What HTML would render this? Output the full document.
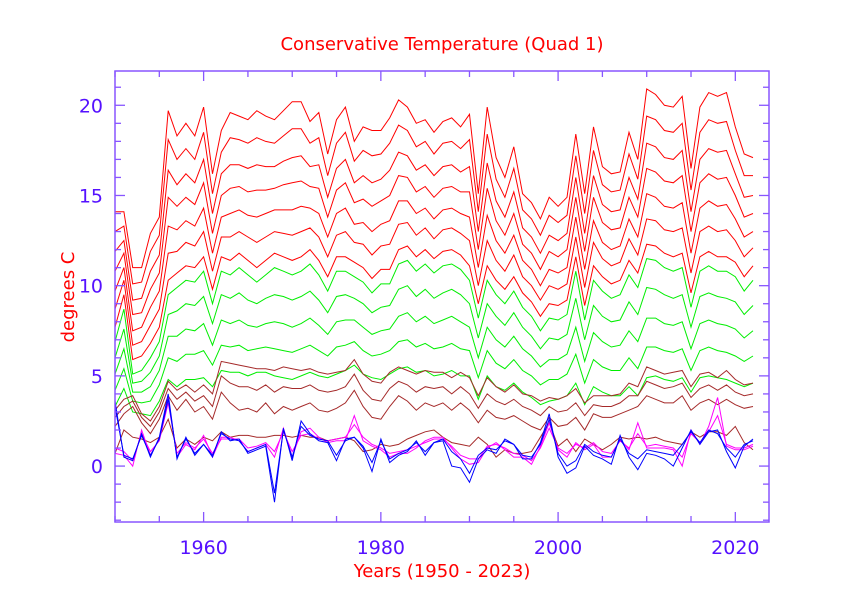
<!DOCTYPE html>
<html><head><meta charset="utf-8"><style>
html,body{margin:0;padding:0;background:#fff;}
svg{display:block;font-family:"DejaVu Sans","Liberation Sans",sans-serif;}
</style></head><body>
<svg id="chart" width="842" height="595" viewBox="0 0 842 595" xmlns="http://www.w3.org/2000/svg">
<rect width="842" height="595" fill="#fff"/>
<text x="442" y="50" text-anchor="middle" font-size="18" fill="#ff0000">Conservative Temperature (Quad  1)</text>
<text x="442" y="577" text-anchor="middle" font-size="18" fill="#ff0000">Years (1950 - 2023)</text>
<text transform="translate(74,297) rotate(-90)" text-anchor="middle" font-size="18" fill="#ff0000">degrees C</text>
<g id="series"></g>
<g id="axes"></g>
</svg>
<script>
const years = [];
for (let y = 1950; y <= 2022; y++) years.push(y);
const redTop = [14.1,14.1,11.0,11.0,12.9,13.8,19.7,18.3,19.0,18.3,19.9,16.2,18.6,19.6,19.4,19.2,19.7,19.4,19.2,19.7,20.2,20.2,19.1,19.6,17.3,19.2,19.9,18.0,18.8,18.6,18.6,19.3,20.3,19.9,19.0,19.2,18.5,19.1,19.3,18.8,19.5,15.1,19.9,17.1,16.0,17.7,15.1,14.6,13.7,14.9,14.4,14.9,18.4,15.1,18.8,16.6,16.2,16.3,18.5,17.0,20.9,20.6,20.0,19.9,20.5,16.5,19.9,20.7,20.5,20.7,18.8,17.3,17.1];
const redA = [13.0,13.3,10.1,10.2,11.9,12.8,18.1,17.0,17.6,17.0,18.5,15.1,17.4,18.2,18.1,17.9,18.2,18.0,17.9,18.3,18.7,18.7,17.9,18.2,16.1,17.9,18.5,16.9,17.5,17.2,17.3,17.9,18.9,18.6,17.7,18.0,17.3,17.9,18.0,17.6,18.1,14.1,18.4,15.9,14.9,16.5,14.2,13.7,12.8,13.9,13.5,13.9,17.2,14.0,17.5,15.6,15.2,15.3,17.3,15.9,19.4,19.2,18.6,18.5,19.0,15.3,18.5,19.2,19.0,19.1,17.5,16.1,16.1];
const redMid1 = [11.9,12.5,9.2,9.3,10.8,11.7,16.4,15.6,16.2,15.7,17.0,14.0,16.2,16.7,16.7,16.5,16.7,16.6,16.6,16.9,17.1,17.2,16.6,16.7,14.9,16.5,17.0,15.7,16.1,15.7,15.9,16.4,17.4,17.2,16.4,16.7,16.1,16.6,16.7,16.3,16.6,13.0,16.8,14.7,13.8,15.2,13.2,12.7,11.8,12.8,12.5,12.9,16.0,12.9,16.1,14.5,14.1,14.2,16.0,14.8,17.9,17.7,17.1,17.0,17.5,14.1,17.0,17.6,17.4,17.5,16.2,14.9,15.0];
const redB = [10.8,11.8,8.4,8.5,9.8,10.7,14.9,14.4,14.9,14.5,15.7,12.9,15.0,15.4,15.5,15.2,15.3,15.3,15.4,15.6,15.7,15.8,15.5,15.4,13.8,15.3,15.7,14.6,14.8,14.4,14.7,15.0,16.1,16.0,15.2,15.5,14.9,15.4,15.5,15.2,15.2,12.0,15.4,13.6,12.8,14.0,12.3,11.8,10.9,11.9,11.6,12.0,14.9,11.9,14.9,13.5,13.1,13.2,14.9,13.8,16.5,16.3,15.8,15.7,16.1,13.0,15.7,16.2,15.9,16.0,15.0,13.8,14.0];
const redMid2 = [9.7,11.0,7.5,7.7,8.8,9.7,13.3,13.1,13.6,13.3,14.3,11.8,13.8,14.0,14.2,13.9,13.8,14.0,14.2,14.2,14.2,14.4,14.3,14.0,12.7,14.0,14.3,13.4,13.5,13.0,13.4,13.6,14.7,14.7,14.0,14.3,13.7,14.2,14.3,14.0,13.8,11.0,13.9,12.5,11.8,12.8,11.4,10.9,10.0,10.9,10.7,11.0,13.8,10.9,13.6,12.4,12.0,12.2,13.7,12.7,15.1,14.9,14.4,14.3,14.6,11.8,14.3,14.7,14.4,14.5,13.7,12.7,13.0];
const redC = [8.7,10.3,6.7,6.9,7.8,8.7,11.8,11.9,12.4,12.2,13.0,10.8,12.7,12.7,13.0,12.7,12.4,12.7,13.0,12.9,12.8,13.0,13.2,12.7,11.6,12.8,13.0,12.4,12.3,11.7,12.2,12.3,13.4,13.5,12.8,13.2,12.6,13.1,13.2,12.9,12.5,10.0,12.5,11.4,10.8,11.7,10.5,10.0,9.2,10.0,9.8,10.1,12.7,9.9,12.4,11.5,11.1,11.3,12.6,11.7,13.7,13.6,13.1,13.0,13.2,10.7,13.0,13.3,13.0,13.1,12.5,11.6,12.1];
const redBottom = [7.7,9.5,5.9,6.1,6.8,7.7,10.3,10.7,11.1,11.0,11.6,9.8,11.6,11.4,11.8,11.4,11.0,11.4,11.8,11.6,11.4,11.6,12.0,11.4,10.5,11.6,11.6,11.3,11.0,10.4,10.9,10.9,12.0,12.2,11.6,12.0,11.5,11.9,12.0,11.7,11.1,9.0,11.1,10.3,9.8,10.5,9.6,9.1,8.3,9.0,8.9,9.2,11.6,8.9,11.1,10.5,10.1,10.3,11.4,10.7,12.3,12.2,11.8,11.6,11.8,9.6,11.6,11.9,11.6,11.6,11.3,10.5,11.1];
const greenTop = [6.9,8.7,5.1,5.3,6.0,6.9,9.5,9.9,10.3,10.2,10.8,9.0,10.8,10.6,11.0,10.6,10.2,10.6,11.0,10.8,10.6,10.8,11.2,10.6,9.7,10.8,10.8,10.5,10.2,9.6,10.1,10.1,11.2,11.4,10.8,11.2,10.7,11.1,11.2,10.9,10.3,8.2,10.3,9.5,9.0,9.7,8.8,8.3,7.5,8.2,8.1,8.4,10.8,8.1,10.3,9.7,9.3,9.5,10.6,9.9,11.5,11.4,11.0,10.8,11.0,8.8,10.8,11.1,10.8,10.8,10.5,9.7,10.3];
const greenA = [6.0,7.6,4.6,4.7,5.2,6.1,8.4,8.6,9.0,8.9,9.4,7.9,9.5,9.3,9.6,9.2,9.0,9.3,9.5,9.4,9.2,9.4,9.7,9.2,8.5,9.4,9.5,9.3,9.0,8.5,8.8,8.9,9.8,10.0,9.4,9.8,9.3,9.6,9.8,9.5,9.0,7.1,9.0,8.3,7.8,8.5,7.7,7.2,6.5,7.1,7.0,7.3,9.3,7.0,8.9,8.3,8.0,8.1,9.1,8.4,9.9,9.8,9.5,9.3,9.5,7.7,9.4,9.6,9.4,9.3,9.1,8.4,8.9];
const greenMid = [5.1,6.5,4.1,4.1,4.4,5.3,7.2,7.2,7.6,7.5,7.9,6.7,8.1,7.9,8.1,7.8,7.7,7.9,8.0,7.9,7.7,7.9,8.2,7.8,7.3,8.0,8.1,8.1,7.7,7.3,7.5,7.6,8.3,8.5,8.0,8.3,7.9,8.1,8.3,8.0,7.7,6.0,7.7,7.0,6.6,7.2,6.5,6.1,5.5,5.9,5.9,6.2,7.7,5.8,7.4,6.9,6.6,6.7,7.5,6.9,8.2,8.2,7.9,7.8,8.0,6.5,7.9,8.1,7.9,7.8,7.6,7.1,7.5];
const greenB = [4.2,5.4,3.6,3.5,3.6,4.5,6.0,5.8,6.2,6.2,6.4,5.6,6.7,6.6,6.7,6.4,6.5,6.6,6.5,6.4,6.3,6.5,6.7,6.4,6.1,6.6,6.7,6.9,6.4,6.1,6.2,6.4,6.9,7.0,6.6,6.8,6.5,6.6,6.8,6.5,6.4,4.9,6.4,5.7,5.4,5.9,5.3,5.0,4.5,4.8,4.8,5.1,6.2,4.6,5.9,5.5,5.3,5.3,6.0,5.4,6.6,6.6,6.4,6.3,6.5,5.3,6.4,6.6,6.4,6.3,6.1,5.8,6.1];
const greenBottom = [3.3,4.3,3.0,2.9,2.8,3.6,4.8,4.4,4.8,4.8,4.9,4.4,5.3,5.2,5.2,5.0,5.2,5.2,5.0,4.9,4.8,5.0,5.2,5.0,4.9,5.1,5.3,5.6,5.1,4.9,4.8,5.1,5.4,5.5,5.2,5.3,5.0,5.1,5.3,5.0,5.0,3.7,5.0,4.4,4.2,4.6,4.1,3.8,3.4,3.6,3.7,3.9,4.6,3.4,4.4,4.1,3.9,3.9,4.4,3.9,4.9,5.0,4.8,4.7,4.9,4.1,4.9,5.0,4.9,4.8,4.6,4.4,4.6];
const brownTop = [3.1,3.7,3.9,2.9,2.5,3.3,4.7,4.2,4.5,4.1,4.5,4.0,5.8,5.7,5.6,5.5,5.4,5.4,5.3,5.5,5.4,5.3,5.4,5.2,5.1,5.2,5.3,5.9,5.1,4.7,4.6,5.2,5.5,5.3,5.1,5.3,5.2,5.2,4.9,5.2,4.9,3.9,4.9,4.4,4.1,4.5,4.0,3.9,3.6,3.8,3.7,3.9,4.3,3.5,3.9,3.9,3.9,4.0,4.6,4.4,5.5,5.3,5.1,5.2,5.3,4.4,5.1,5.2,4.9,5.3,4.8,4.5,4.6];
const brownA = [2.7,3.3,3.6,2.7,2.2,3.0,4.3,3.7,4.1,3.6,3.9,3.3,5.0,4.6,4.4,4.4,4.2,4.5,4.1,4.4,4.3,4.3,4.5,4.2,4.1,4.2,4.4,5.1,4.2,3.7,3.6,4.3,4.7,4.5,4.1,4.4,4.3,4.4,4.0,4.4,4.0,3.2,4.0,3.6,3.4,3.7,3.3,3.1,2.8,3.3,3.0,3.1,3.5,2.8,3.4,3.3,3.3,3.5,3.9,3.9,4.7,4.5,4.3,4.4,4.6,3.8,4.3,4.5,4.2,4.5,4.1,3.9,4.0];
const brownMid = [2.2,2.9,3.3,2.4,1.8,2.6,3.9,3.1,3.7,3.0,3.3,2.6,4.1,3.5,3.1,3.2,3.0,3.5,2.9,3.3,3.1,3.3,3.5,3.1,3.0,3.2,3.5,4.2,3.3,2.7,2.6,3.3,3.9,3.6,3.1,3.5,3.3,3.5,3.1,3.5,3.1,2.4,3.1,2.7,2.6,2.8,2.5,2.2,2.0,2.7,2.2,2.3,2.7,2.0,2.9,2.7,2.7,2.9,3.1,3.3,3.9,3.7,3.5,3.5,3.9,3.1,3.5,3.7,3.4,3.7,3.4,3.2,3.3];
const brownBottom = [0.7,2.0,1.6,1.5,1.3,1.6,2.6,1.0,1.5,1.2,1.6,1.4,1.9,1.6,1.7,1.7,1.6,1.6,1.7,1.7,1.6,1.7,1.6,1.6,1.4,1.5,1.6,1.4,0.8,0.9,1.2,1.1,1.2,1.5,1.7,1.9,2.0,1.6,1.3,1.2,1.1,1.6,1.2,0.5,0.9,0.7,0.7,0.8,1.6,2.4,1.1,1.5,0.8,1.5,1.2,0.9,1.2,1.6,1.5,1.6,1.5,1.6,1.4,1.3,1.2,1.9,1.6,1.9,1.9,1.7,2.2,1.3,0.9];
const magentaA = [0.7,0.6,0.0,2.0,0.6,1.5,3.8,0.5,1.2,0.9,1.7,0.5,1.6,1.6,1.4,0.8,1.0,1.2,0.5,2.1,0.5,1.9,2.1,1.6,1.3,1.4,1.4,2.8,1.4,1.1,0.9,0.5,0.7,0.7,1.0,1.4,1.6,1.6,1.0,0.4,0.1,0.2,1.0,1.3,0.9,0.5,0.5,0.1,1.1,2.4,0.9,0.5,1.3,0.9,1.2,0.5,0.5,1.5,0.9,2.4,1.0,1.0,1.0,0.9,0.0,2.0,1.2,2.2,3.8,1.1,0.9,0.9,1.1];
const magentaB = [1.0,0.8,0.3,1.8,0.8,1.4,3.5,0.7,1.3,1.0,1.5,0.7,1.5,1.5,1.5,1.0,1.1,1.3,0.8,1.9,0.8,1.7,1.8,1.5,1.4,1.5,1.6,2.3,1.6,1.2,1.0,0.7,0.8,0.9,1.1,1.3,1.5,1.5,1.1,0.6,0.4,0.4,1.1,1.2,1.0,0.7,0.6,0.3,1.0,2.1,1.0,0.7,1.2,1.0,1.3,0.8,0.7,1.4,1.0,1.8,1.1,1.2,1.1,1.0,0.5,1.8,1.3,1.9,2.8,1.2,1.0,1.0,1.2];
const blueA = [3.6,0.5,0.3,1.8,0.5,1.6,4.0,0.4,1.6,0.6,1.2,0.5,1.9,1.4,1.5,0.7,0.9,1.1,-2.0,2.1,0.3,2.5,1.8,1.4,1.3,0.3,1.5,1.6,1.0,-0.3,1.5,0.2,0.6,0.8,1.4,0.6,1.3,1.4,0.0,-0.1,-0.9,0.4,0.9,0.7,1.5,1.2,0.4,0.4,1.3,2.9,0.5,-0.4,-0.1,1.1,0.6,0.4,0.1,1.7,0.5,-0.2,0.7,0.6,0.4,0.0,1.0,2.0,1.2,1.9,2.0,0.8,-0.1,1.1,1.5];
const blueB = [3.3,0.6,0.4,1.7,0.6,1.5,3.7,0.5,1.5,0.7,1.2,0.6,1.8,1.5,1.4,0.8,1.0,1.2,-1.5,2.0,0.5,2.2,1.7,1.5,1.4,0.6,1.4,1.6,1.1,0.2,1.4,0.4,0.7,0.9,1.3,0.8,1.3,1.5,0.8,0.4,-0.4,0.6,1.0,0.9,1.4,1.2,0.6,0.5,1.2,2.6,0.7,0.0,0.3,1.2,0.8,0.6,0.5,1.5,0.7,0.4,0.9,0.8,0.7,0.6,1.2,1.9,1.3,2.0,1.8,1.0,0.5,1.2,1.4];
const yTicks = [0,5,10,15,20];
const xTicks = [1960,1980,2000,2020];

const L=115,R=769,T=71,B=522, xMin=1950,xMax=2023.8, yMin=-3.1,yMax=21.9;
const xs = v => L + (v - xMin) / (xMax - xMin) * (R - L);
const ys = v => B - (v - yMin) / (yMax - yMin) * (B - T);
const NS="http://www.w3.org/2000/svg";
const sg=document.getElementById('series'), ag=document.getElementById('axes');

function drawSeries(vals, color, name){
  const p=document.createElementNS(NS,'path');
  p.setAttribute('d', vals.map((v,i)=>(i?'L':'M')+xs(years[i]).toFixed(1)+' '+ys(v).toFixed(1)).join(''));
  p.setAttribute('fill','none'); p.setAttribute('stroke',color); p.setAttribute('stroke-width','1');
  
  
  sg.appendChild(p);
}
drawSeries(redTop,'#ff0000','series-red-top');
drawSeries(redA,'#ff0000','series-red-a');
drawSeries(redMid1,'#ff0000','series-red-mid1');
drawSeries(redB,'#ff0000','series-red-b');
drawSeries(redMid2,'#ff0000','series-red-mid2');
drawSeries(redC,'#ff0000','series-red-c');
drawSeries(redBottom,'#ff0000','series-red-bottom');
drawSeries(greenTop,'#00ee00','series-green-top');
drawSeries(greenA,'#00ee00','series-green-a');
drawSeries(greenMid,'#00ee00','series-green-mid');
drawSeries(greenB,'#00ee00','series-green-b');
drawSeries(greenBottom,'#00ee00','series-green-bottom');
drawSeries(brownTop,'#a52a2a','series-brown-top');
drawSeries(brownA,'#a52a2a','series-brown-a');
drawSeries(brownMid,'#a52a2a','series-brown-mid');
drawSeries(brownBottom,'#a52a2a','series-brown-bottom');
drawSeries(magentaA,'#ff00ff','series-magenta-a');
drawSeries(magentaB,'#ff00ff','series-magenta-b');
drawSeries(blueA,'#0000ff','series-blue-a');
drawSeries(blueB,'#0000ff','series-blue-b');

const axC='#8855ff', lblC='#5511ff';
function line(x1,y1,x2,y2,name,w){
  const l=document.createElementNS(NS,'line');
  l.setAttribute('x1',x1);l.setAttribute('y1',y1);l.setAttribute('x2',x2);l.setAttribute('y2',y2);
  l.setAttribute('stroke',axC);l.setAttribute('stroke-width',w||1.3);
  
  
  ag.appendChild(l);
}
const box=document.createElementNS(NS,'rect');
box.setAttribute('x',L);box.setAttribute('y',T);box.setAttribute('width',R-L);box.setAttribute('height',B-T);
box.setAttribute('fill','none');box.setAttribute('stroke',axC);box.setAttribute('stroke-width','1.5');


ag.appendChild(box);
for(let v=-3; v<=21; v++){
  const y=ys(v), major=(v%5===0), len=major?10:6;
  line(L,y,L+len,y,'y-tick');
  line(R,y,R-len,y,'y-tick-right');
}
for(let yr=1950; yr<=2020; yr+=5){
  const x=xs(yr), major=(yr%20===0 && yr>1950), len=major?10:6;
  line(x,B,x,B-len,'x-tick');
  line(x,T,x,T+len,'x-tick-top');
}
yTicks.forEach(v=>{
  const t=document.createElementNS(NS,'text');
  t.setAttribute('x',103);t.setAttribute('y',ys(v)+7);t.setAttribute('text-anchor','end');
  t.setAttribute('font-size','19');t.setAttribute('fill',lblC);
  
  
  t.textContent=v; ag.appendChild(t);
});
xTicks.forEach(v=>{
  const t=document.createElementNS(NS,'text');
  t.setAttribute('x',xs(v));t.setAttribute('y',554);t.setAttribute('text-anchor','middle');
  t.setAttribute('font-size','19');t.setAttribute('fill',lblC);
  
  
  t.textContent=v; ag.appendChild(t);
});
</script>
</body></html>
